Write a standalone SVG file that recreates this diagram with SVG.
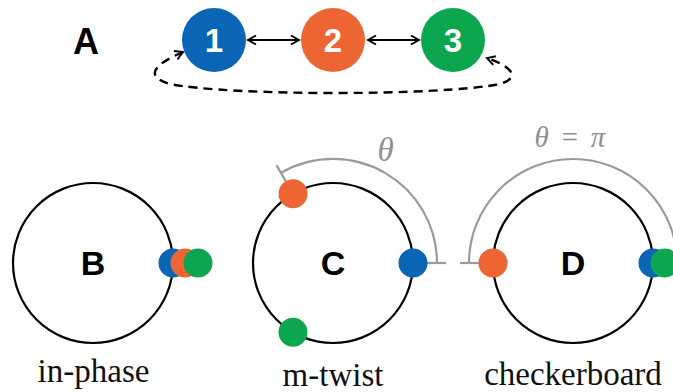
<svg xmlns="http://www.w3.org/2000/svg" width="673" height="392" viewBox="0 0 673 392">
  <style>
    .lbl { font-family: "Liberation Sans", Arial, sans-serif; font-weight: bold; text-anchor: middle; }
    .num { font-family: "Liberation Sans", Arial, sans-serif; font-weight: bold; font-size: 33px; fill: #ffffff; text-anchor: middle; }
    .cap { font-family: "Liberation Serif", "Times New Roman", serif; font-size: 33px; fill: #111111; text-anchor: middle; }
    .math { font-family: "Liberation Serif", "Times New Roman", serif; font-style: italic; fill: #8f8f8f; text-anchor: middle; }
    .mathup { font-family: "Liberation Serif", "Times New Roman", serif; fill: #8f8f8f; text-anchor: middle; }
    .ring { fill: none; stroke: #000000; stroke-width: 2.2; }
    .gray { fill: none; stroke: #9a9a9a; stroke-width: 2.2; }
    .blue { fill: #0a66b5; }
    .orange { fill: #ee6534; }
    .green { fill: #0ca64f; }
    .conn { fill: none; stroke: #000000; stroke-width: 1.8; }
    .dash { fill: none; stroke: #000000; stroke-width: 2.4; stroke-dasharray: 9 6; }
  </style>
  <defs>
    <marker id="v" markerUnits="userSpaceOnUse" viewBox="-10 -6 12 12" refX="0" refY="0" markerWidth="12" markerHeight="12" orient="auto-start-reverse">
      <path d="M-8,-4.5 L0,0 L-8,4.5" fill="none" stroke="#000000" stroke-width="1.9"/>
    </marker>
  </defs>

  <rect width="673" height="392" fill="#ffffff"/>

  <!-- Panel A -->
  <text class="lbl" x="86" y="54" font-size="36">A</text>

  <g id="connectors">
    <path class="conn" d="M248,40 L299,40" marker-start="url(#v)" marker-end="url(#v)"/>
    <path class="conn" d="M368,40 L419,40" marker-start="url(#v)" marker-end="url(#v)"/>
    <path class="dash" d="M183,52 C160,62 140,75 170,84 C230,96 440,96 500,84 C525,76 505,64 487,58" marker-start="url(#v)" marker-end="url(#v)"/>
  </g>

  <g id="node1">
    <circle class="blue" cx="214" cy="40" r="32"/>
    <text class="num" x="214" y="52">1</text>
  </g>
  <g id="node2">
    <circle class="orange" cx="333" cy="40" r="32"/>
    <text class="num" x="333" y="52">2</text>
  </g>
  <g id="node3">
    <circle class="green" cx="453" cy="40" r="32"/>
    <text class="num" x="453" y="52">3</text>
  </g>

  <!-- Panel B: in-phase -->
  <g id="panelB">
    <circle class="ring" cx="93" cy="263" r="80"/>
    <text class="lbl" x="93" y="275" font-size="34">B</text>
    <circle class="blue" cx="173" cy="263" r="14.5"/>
    <circle class="orange" cx="185" cy="263" r="14.5"/>
    <circle class="green" cx="198" cy="263" r="14.5"/>
    <text class="cap" x="93.5" y="382">in-phase</text>
  </g>

  <!-- Panel C: m-twist -->
  <g id="panelC">
    <path class="gray" d="M437,263 A104,104 0 0 0 281,172.9"/>
    <path class="gray" d="M427,263 L446,263"/>
    <path class="gray" d="M286,181.6 L276.5,165.1"/>
    <circle class="ring" cx="333" cy="263" r="80"/>
    <text class="lbl" x="333" y="275" font-size="34">C</text>
    <circle class="blue" cx="413" cy="263" r="14.5"/>
    <circle class="orange" cx="293" cy="193.7" r="14.5"/>
    <circle class="green" cx="293" cy="332.3" r="14.5"/>
    <text class="math" x="385.5" y="161" font-size="33">θ</text>
    <text class="cap" x="333" y="386">m-twist</text>
  </g>

  <!-- Panel D: checkerboard -->
  <g id="panelD">
    <path class="gray" d="M469,263 A104,104 0 0 1 677,263"/>
    <path class="gray" d="M460,263 L479,263"/>
    <path class="gray" d="M667,263 L686,263"/>
    <circle class="ring" cx="573" cy="263" r="80"/>
    <text class="lbl" x="573" y="275" font-size="34">D</text>
    <circle class="orange" cx="493" cy="263" r="14.5"/>
    <circle class="blue" cx="653" cy="263" r="14.5"/>
    <circle class="green" cx="665" cy="263" r="14.5"/>
    <text font-size="29"><tspan class="math" x="541.5" y="147">θ</tspan><tspan class="mathup" x="570" y="147">=</tspan><tspan class="math" x="598" y="147">π</tspan></text>
    <text class="cap" x="573" y="385">checkerboard</text>
  </g>
</svg>
